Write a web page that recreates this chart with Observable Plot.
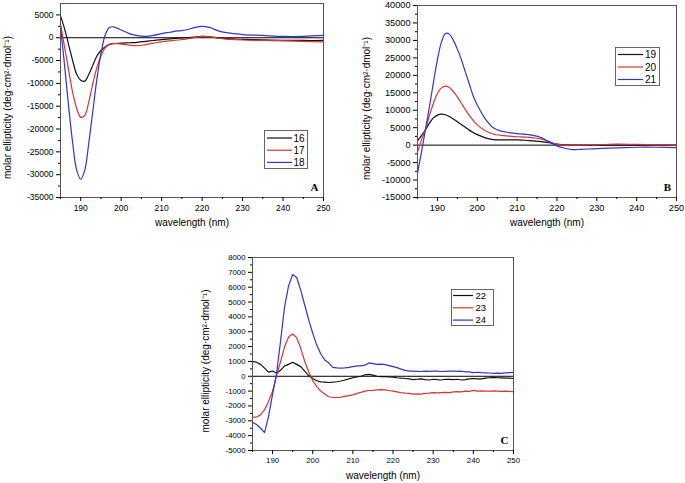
<!DOCTYPE html>
<html><head><meta charset="utf-8">
<script src="https://cdn.jsdelivr.net/npm/d3@7"></script>
<script src="https://cdn.jsdelivr.net/npm/@observablehq/plot@0.6"></script>
<style>
body{margin:0;background:#fff;}
#root{position:relative;width:685px;height:483px;overflow:hidden;background:#fff;font-family:"Liberation Sans",Arial,sans-serif;}
.pl{position:absolute;}
</style></head><body><div id="root"></div><script>
// ---------- Panel A ----------
const wlA = [185,186,187,188,189,190,191,192,193,194,195,196,197,198,199,200,202,204,206,208,210,212,214,216,218,220,222,224,226,228,230,235,240,245,250];
const s16 = [4800,2000,-1500,-5000,-8000,-9300,-9500,-8000,-6000,-4000,-2800,-2000,-1500,-1300,-1250,-1200,-1100,-1000,-800,-600,-400,-250,-100,0,150,300,200,-50,-200,-300,-350,-450,-550,-600,-600];
const s17 = [3000,-2000,-7000,-12000,-15500,-17400,-17000,-14000,-10000,-6500,-4000,-2300,-1500,-1250,-1300,-1400,-1600,-1750,-1500,-1200,-900,-700,-500,-300,0,300,200,-100,-300,-400,-500,-600,-700,-800,-900];
const s18 = [2500,-6000,-15000,-23000,-29000,-31000,-29000,-23000,-16000,-9000,-3500,500,2200,2400,2100,1700,900,450,300,500,900,1200,1500,1700,2200,2500,2200,1500,1100,900,700,500,300,300,500];
const namesA = ["16","17","18"];
const yTicksA = [-35000,-30000,-25000,-20000,-15000,-10000,-5000,0,5000];

// ---------- Panel B ----------
const wlB = [185,186,187,188,189,190,191,192,193,194,195,196,197,198,199,200,202,204,206,208,210,212,214,216,218,220,222,224,226,228,230,235,240,245,250];
const s19 = [1200,2700,4400,6300,7800,8600,8900,8700,8200,7500,6700,5900,5100,4300,3600,3000,2100,1600,1500,1500,1500,1400,1200,1000,700,300,50,0,0,0,0,0,0,0,0];
const s20 = [-2000,1500,4500,8500,12000,14800,16400,16900,16500,15300,13800,12000,10200,8500,7000,5800,4100,3200,2800,2600,2400,2300,2100,1800,1000,300,0,0,0,100,100,300,200,100,0];
const s21 = [-8000,-2000,4500,11000,18000,24500,29500,32000,31800,30000,27500,24500,21000,17500,14000,11500,7500,5000,4000,3600,3300,3100,2800,2200,1000,-200,-900,-1300,-1200,-1100,-1000,-800,-600,-600,-700];
const namesB = ["19","20","21"];
const yTicksB = [-15000,-10000,-5000,0,5000,10000,15000,20000,25000,30000,35000,40000];

// ---------- Panel C ----------
const wlC = d3.range(185, 251);
const s22 = [1000,950,800,550,280,350,200,400,700,800,950,800,650,350,50,-150,-300,-380,-400,-420,-400,-370,-320,-250,-180,-100,-50,0,100,130,80,0,-30,-20,-50,-60,-100,-130,-150,-180,-220,-200,-180,-220,-250,-200,-230,-250,-200,-210,-230,-200,-250,-220,-180,-150,-180,-170,-130,-100,-80,-100,-110,-120,-130,-150];
const s23 = [-2750,-2750,-2600,-2250,-1700,-1000,50,1000,2000,2650,2850,2600,1900,1000,300,-300,-700,-1000,-1200,-1380,-1430,-1420,-1400,-1350,-1300,-1250,-1150,-1080,-1000,-960,-950,-920,-900,-920,-960,-1000,-1050,-1100,-1130,-1150,-1200,-1180,-1200,-1150,-1130,-1100,-1120,-1100,-1080,-1100,-1050,-1030,-1050,-1000,-1020,-950,-1000,-980,-1000,-1000,-980,-1000,-1020,-1000,-1020,-1030];
const s24 = [-3100,-3250,-3500,-3800,-2700,-1200,200,2400,4700,6100,6850,6650,5800,4800,3800,2900,2100,1500,1100,900,600,560,550,560,600,650,700,700,750,900,850,800,820,780,720,650,580,480,400,350,340,330,320,340,330,350,340,320,330,340,350,330,340,300,290,250,270,240,230,220,200,210,200,230,250,260];
const namesC = ["22","23","24"];
const yTicksC = [-5000,-4000,-3000,-2000,-1000,0,1000,2000,3000,4000,5000,6000,7000,8000];

const xTicks = [190,200,210,220,230,240,250];
const colors = ["#111111","#d93535","#3333d0"];
const yTitle = "molar ellipticity (deg·cm²·dmol⁻¹)";
const xTitle = "wavelength (nm)";

const root = document.getElementById("root");

function mids(t){ const out=[]; for(let i=0;i<t.length-1;i++) out.push((t[i]+t[i+1])/2); return out; }

function panel(cfg){
  const data = [];
  cfg.series.forEach((arr, k) => arr.forEach((v, i) => data.push({wl: cfg.wl[i], v, s: cfg.names[k]})));
  const xMinor = [185, ...mids(xTicks)];
  const yMinor = mids(cfg.yTicks);
  const chart = Plot.plot({
    width: cfg.width, height: cfg.height,
    marginLeft: cfg.m[0], marginRight: cfg.m[1], marginTop: cfg.m[2], marginBottom: cfg.m[3],
    x: {domain: [185, 250], axis: null},
    y: {domain: cfg.yDomain, axis: null},
    color: {domain: cfg.names, range: colors},
    style: {fontFamily: "Liberation Sans, Arial, sans-serif", background: "transparent", overflow: "visible"},
    marks: [
      Plot.ruleY([0], {stroke: "#000", strokeWidth: 1}),
      Plot.line(data, {x: "wl", y: "v", z: "s", stroke: "s", strokeWidth: 1.2, curve: cfg.curve}),
      Plot.frame({stroke: "#555", strokeWidth: 1}),
      Plot.axisX(xTicks, {tickSize: 4, tickPadding: 3, fontSize: cfg.fs, label: null, tickFormat: d => String(d)}),
      Plot.axisX(xMinor, {tickSize: 2, label: null, tickFormat: () => ""}),
      Plot.axisY(cfg.yTicks, {tickSize: 4, tickPadding: 3, fontSize: cfg.fs, label: null, tickFormat: d => String(d)}),
      Plot.axisY(yMinor, {tickSize: 2, label: null, tickFormat: () => ""}),
      Plot.text([xTitle], {text: d => d, frameAnchor: "bottom", dy: cfg.xTitleDy, fontSize: 10, textAnchor: "middle", lineAnchor: "middle"}),
      Plot.text([yTitle], {text: d => d, frameAnchor: "left", rotate: -90, dx: cfg.yTitleDx, dy: 7, fontSize: 10, textAnchor: "middle", lineAnchor: "middle"}),
      Plot.text([cfg.letter], {text: d => d, frameAnchor: "bottom-right", dx: -9, dy: -10, fontSize: 11, fontWeight: "bold", fontFamily: "Liberation Serif, Times New Roman, serif", textAnchor: "middle", lineAnchor: "middle"})
    ]
  });
  chart.classList.add("pl");
  chart.style.left = cfg.left + "px";
  chart.style.top = cfg.top + "px";
  root.appendChild(chart);

  // legend
  const L = cfg.legend;
  const svg = d3.select(root).append("svg").attr("class", "pl")
    .style("left", L.left + "px").style("top", L.top + "px")
    .attr("width", L.w + 1).attr("height", L.h + 1);
  svg.append("rect").attr("x", 0.5).attr("y", 0.5).attr("width", L.w).attr("height", L.h)
    .attr("fill", "#fff").attr("stroke", "#666");
  cfg.names.forEach((n, i) => {
    const y = L.y0 + i * L.dy;
    svg.append("line").attr("x1", L.l0).attr("x2", L.l1).attr("y1", y).attr("y2", y)
      .attr("stroke", colors[i]).attr("stroke-width", 1.2);
    svg.append("text").attr("x", L.tx).attr("y", y).attr("dy", "0.35em")
      .attr("font-size", L.fs).attr("font-family", "Liberation Sans, Arial, sans-serif").text(n);
  });
}

panel({wl: wlA, series: [s16, s17, s18], names: namesA, yDomain: [-35000, 7500], yTicks: yTicksA,
  width: 340, height: 240, m: [60, 17, 3, 43], left: 0, top: 0, curve: "catmull-rom", fs: 8.5,
  xTitleDy: 25, yTitleDx: -53, letter: "A",
  legend: {left: 264, top: 129.5, w: 43, h: 38, l0: 3, l1: 28, tx: 29.5, y0: 8, dy: 12.2, fs: 10}});

panel({wl: wlB, series: [s19, s20, s21], names: namesB, yDomain: [-15000, 40000], yTicks: yTicksB,
  width: 345, height: 240, m: [77, 9, 5, 43], left: 340, top: 0, curve: "catmull-rom", fs: 9.2,
  xTitleDy: 25, yTitleDx: -51, letter: "B",
  legend: {left: 614.5, top: 47, w: 44, h: 38, l0: 3, l1: 28, tx: 30, y0: 7.5, dy: 12.5, fs: 10}});

panel({wl: wlC, series: [s22, s23, s24], names: namesC, yDomain: [-5000, 8000], yTicks: yTicksC,
  width: 350, height: 243, m: [82, 7, 17, 33], left: 170, top: 240, curve: "linear", fs: 7.8,
  xTitleDy: 25, yTitleDx: -47, letter: "C",
  legend: {left: 451, top: 289, w: 42, h: 36, l0: 2, l1: 22, tx: 24.5, y0: 6.5, dy: 12.3, fs: 9.5}});
</script></body></html>
